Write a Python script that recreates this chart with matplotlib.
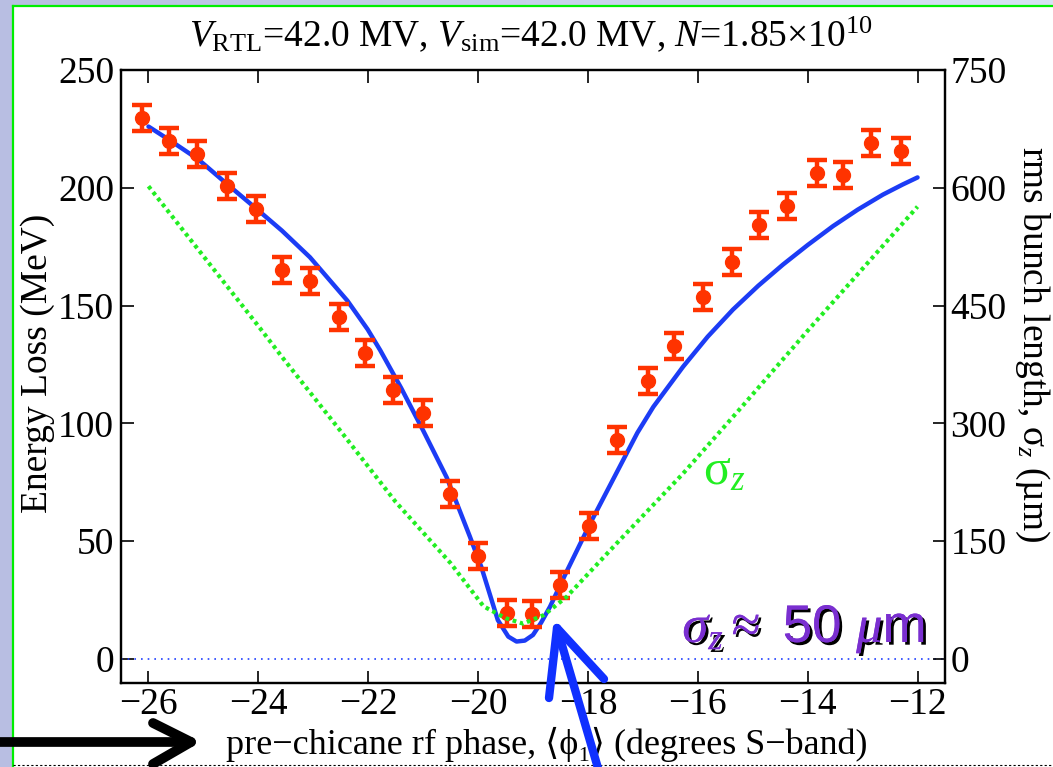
import numpy as np
import matplotlib
matplotlib.use("Agg")
import matplotlib.pyplot as plt
from matplotlib.lines import Line2D
from matplotlib.patches import Rectangle
import matplotlib.patheffects as pe

plt.rcParams['font.family'] = 'Liberation Serif'
plt.rcParams['mathtext.fontset'] = 'custom'
plt.rcParams['mathtext.rm'] = 'Liberation Serif'
plt.rcParams['mathtext.it'] = 'Liberation Serif:italic'
plt.rcParams['mathtext.bf'] = 'Liberation Serif:bold'

# measured energy loss (MeV) vs rf phase (deg S-band)
phase_meas = [-26.12, -25.62, -25.11, -24.57, -24.05, -23.57, -23.06, -22.53, -22.05, -21.55,
              -21.01, -20.51, -20.0, -19.48, -19.02, -18.5, -17.98, -17.47, -16.9, -16.44,
              -15.9, -15.38, -14.88, -14.37, -13.83, -13.35, -12.85, -12.31]
eloss_meas = [229.5, 219.9, 214.5, 200.8, 191.0, 165.1, 160.6, 145.3, 130.0, 114.3,
              104.5, 70.2, 43.6, 19.6, 19.1, 31.4, 56.4, 93.1, 117.8, 133.0,
              153.8, 168.4, 184.2, 192.1, 206.2, 205.4, 219.2, 215.7]
eloss_err = [5.5] * len(phase_meas)

# simulated energy loss (MeV)
phase_sim = [-26.0, -25.6, -25.09, -24.56, -24.03, -23.57, -23.06, -22.38, -22.01, -21.78,
             -21.4, -21.0, -20.57, -20.15, -19.94, -19.78, -19.64, -19.45, -19.3, -19.15,
             -19.0, -18.85, -18.69, -18.39, -17.96, -17.48, -17.1, -16.81, -16.27, -15.82,
             -15.36, -14.9, -14.45, -14.0, -13.54, -13.09, -12.63, -12.27, -12.0]
eloss_sim = [226.0, 220.0, 212.0, 201.4, 191.0, 181.8, 170.5, 152.1, 139.9, 131.0,
             115.0, 97.0, 77.0, 52.0, 39.0, 27.0, 16.5, 9.5, 7.4, 7.8,
             10.2, 15.5, 22.2, 37.0, 57.5, 79.0, 96.0, 107.0, 124.0, 136.8,
             148.3, 158.4, 167.4, 175.7, 183.7, 190.7, 197.1, 201.4, 204.4]

# simulated rms bunch length (um)
phase_sz = [-26.0, -25.0, -24.0, -23.54, -22.5, -21.5, -20.5, -19.9, -19.5, -19.18,
            -18.8, -18.39, -17.48, -16.27, -15.2, -14.0, -13.0, -12.0]
sigma_z = [602, 513, 424, 382, 290, 200, 122, 67, 52, 45,
           56, 79, 147, 236, 321, 418, 497, 576]

W, H = 1053, 767
fig = plt.figure(figsize=(W / 100, H / 100), dpi=100)
fig.patch.set_facecolor('white')

def fx(px):
    return px / W

def fy(py):
    return 1 - py / H

# slide background decoration
bg = fig.add_axes([0, 0, 1, 1], zorder=-5)
bg.axis('off')
bg.add_patch(Rectangle((0, 0), 12, H, color='#B8BEE2', lw=0))
grad = np.linspace(0, 1, 256).reshape(1, -1)
cmap = matplotlib.colors.LinearSegmentedColormap.from_list('g', ['#B8BEE2', '#D6E2F4'])
bg.imshow(grad, extent=(0, W, 6, 0), aspect='auto', cmap=cmap)
bg.plot([13, 13], [6, H], color='#00EE00', lw=1.6)
bg.plot([13, W], [6, 6], color='#00EE00', lw=1.6)
bg.plot([13, W], [765, 765], color='black', lw=0.8, ls=(0, (2, 2)))
bg.set_xlim(0, W)
bg.set_ylim(H, 0)

ax = fig.add_axes([fx(121), fy(683), (945 - 121) / W, (683 - 70) / H])
ax.set_xlim(-26.5, -11.5)
ax.set_ylim(-10.2, 250)

ax.axhline(0, color='#2040FF', lw=1.2, ls=(0, (1, 3)))
ax.plot(phase_sim, eloss_sim, color='#1C3CF5', lw=3.2, solid_capstyle='round',
        solid_joinstyle='round', zorder=3)
ax.errorbar(phase_meas, eloss_meas, yerr=eloss_err, fmt='o', color='#FF3300',
            ms=10, elinewidth=3.2, capsize=7, capthick=3.2, zorder=4)

ax2 = ax.twinx()
ax2.set_ylim(-30.6, 750)
ax2.plot(phase_sz, sigma_z, color='#22EE22', lw=3, ls=(0, (0.9, 0.9)), zorder=2)

ax.set_xticks(np.arange(-26, -11, 2))
ax.set_yticks(np.arange(0, 251, 50))
ax2.set_yticks(np.arange(0, 751, 150))
ax.tick_params(axis='both', direction='in', labelsize=27, length=9, width=1.2, pad=5)
ax.tick_params(axis='x', top=True, pad=3)
ax.tick_params(axis='y', right=False)
ax2.tick_params(axis='y', direction='in', labelsize=27, length=9, width=1.2, pad=4)
for a in (ax, ax2):
    for s in a.spines.values():
        s.set_linewidth(1.6)

fig.text(fx(531), fy(34), r'$V_{\rm RTL}$=42.0 MV, $V_{\rm sim}$=42.0 MV, $N$=1.85$\times$10$^{10}$',
         ha='center', va='center', fontsize=27)
fig.text(fx(38), fy(363), 'Energy Loss (MeV)', rotation=90, ha='center', va='center', fontsize=27)
fig.text(fx(1032), fy(344), 'rms bunch length, $\\mathrm{\\sigma}_z$ (\u00b5m)',
         rotation=-90, ha='center', va='center', fontsize=27)
fig.text(fx(547), fy(744), 'pre\u2212chicane rf phase, \u27e8\u03d5\u2081\u27e9 (degrees S\u2212band)',
         ha='center', va='center', fontsize=26,
         family=['Liberation Serif', 'DejaVu Serif', 'DejaVu Sans'])

fig.text(fx(703), fy(472), r'$\mathrm{\sigma}_z$', color='#22EE22', fontsize=36,
         ha='left', va='center')

t = fig.text(fx(925), fy(642), r'$\sigma_z$$\approx$ 50 $\mu$m', color='#7A2FD0',
             family='Liberation Sans', fontsize=38, ha='right', va='baseline')
t.set_path_effects([pe.withSimplePatchShadow(offset=(2, -2), shadow_rgbFace='black', alpha=1.0),
                    pe.Normal()])

# hand-drawn arrows
def stroke(pts, color, lw):
    xs = [fx(p[0]) for p in pts]
    ys = [fy(p[1]) for p in pts]
    fig.add_artist(Line2D(xs, ys, color=color, lw=lw, solid_capstyle='round',
                          solid_joinstyle='round', transform=fig.transFigure, zorder=10))

stroke([(-5, 742), (191, 742)], 'black', 7)
stroke([(153, 723), (191, 742), (153, 764)], 'black', 7)
stroke([(600, 775), (557, 628)], '#1030FF', 6)
stroke([(549, 698), (557, 628), (604, 679)], '#1030FF', 6)

fig.savefig('out.png', dpi=100)
